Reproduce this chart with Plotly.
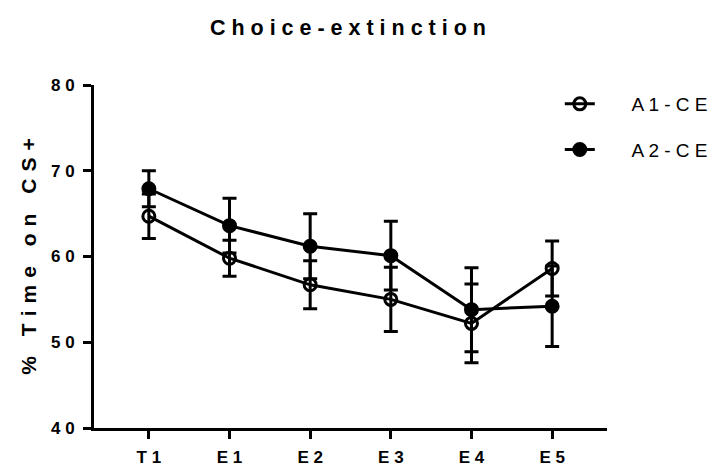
import plotly.graph_objects as go

# ---- data ----
categories = ["T1", "E1", "E2", "E3", "E4", "E5"]
a1_mean = [64.7, 59.8, 56.7, 55.0, 52.2, 58.6]
a1_err = [2.6, 2.1, 2.8, 3.75, 4.6, 3.2]
a2_mean = [67.9, 63.6, 61.2, 60.1, 53.8, 54.2]
a2_err = [2.1, 3.2, 3.8, 4.0, 4.9, 4.7]
series_names = ["A1-CE", "A2-CE"]
y_ticks = [40, 50, 60, 70, 80]
title_text = "Choice-extinction"
y_title = "% Time on CS+"

FONT = "Liberation Sans, Arial, sans-serif"
NB = "\u00a0"


def spaced(s, sep=" "):
    return sep.join(list(s))


fig = go.Figure()

for name, mean, err, sym in [
    (series_names[0], a1_mean, a1_err, "circle-open"),
    (series_names[1], a2_mean, a2_err, "circle"),
]:
    fig.add_trace(go.Scatter(
        x=categories, y=mean,
        mode="lines+markers",
        name=NB * 6 + spaced(name),
        legendgroup=name,
        line=dict(color="black", width=3),
        marker=dict(symbol=sym, size=12, color="black",
                    line=dict(color="black", width=3)),
        error_y=dict(type="data", array=err, visible=True,
                     color="black", thickness=3, width=7),
    ))

fig.update_layout(
    width=717, height=471,
    margin=dict(l=86, r=108, t=77, b=43),
    paper_bgcolor="white", plot_bgcolor="white",
    title=dict(text=spaced(title_text), x=0.495, xref="paper",
               y=1 - 19 / 471, yref="container", yanchor="middle",
               xanchor="center",
               font=dict(family=FONT, size=21.5, color="black", weight="bold")),
    legend=dict(x=0.908, y=1.0, xanchor="left", yanchor="top",
                font=dict(family=FONT, size=19, color="black"),
                tracegroupgap=18, bgcolor="rgba(0,0,0,0)"),
    showlegend=True,
)

fig.update_xaxes(
    type="category",
    range=[-0.68, 5.68],
    showline=True, linecolor="black", linewidth=3,
    ticks="outside", ticklen=8, tickwidth=3, tickcolor="black",
    tickvals=categories, ticktext=[spaced(c) for c in categories],
    tickfont=dict(family=FONT, size=17, color="black", weight="bold"),
    ticklabelstandoff=4,
    showgrid=False, zeroline=False,
)

fig.update_yaxes(
    range=[40, 80],
    showline=True, linecolor="black", linewidth=3,
    ticks="outside", ticklen=8, tickwidth=3, tickcolor="black",
    tickvals=y_ticks, ticktext=[spaced(str(v)) for v in y_ticks],
    tickfont=dict(family=FONT, size=17, color="black", weight="bold"),
    ticklabelstandoff=5,
    showgrid=False, zeroline=False,
    title=dict(text=spaced(y_title, "\u2004"), standoff=9,
               font=dict(family=FONT, size=21, color="black", weight="bold")),
)

fig.write_html("out.html")
